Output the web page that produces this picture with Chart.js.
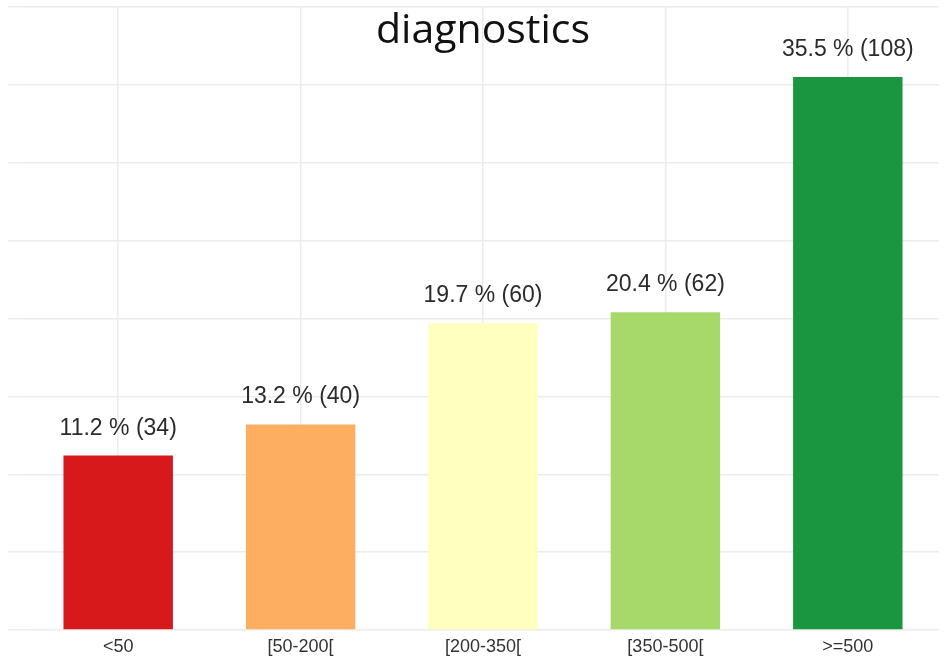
<!DOCTYPE html>
<html>
<head>
<meta charset="utf-8">
<script src="https://cdn.jsdelivr.net/npm/chart.js@4/dist/chart.umd.min.js"></script>
<style>
  html, body { margin: 0; padding: 0; background: #ffffff; }
  #wrap { width: 944px; height: 659px; }
</style>
</head>
<body>
<div id="wrap"><canvas id="c" width="944" height="659"></canvas></div>
<script>
// Share of diagnostics per class, with absolute counts
const categories = ['<50', '[50-200[', '[200-350[', '[350-500[', '>=500'];
const percentValues = [11.2, 13.2, 19.7, 20.4, 35.5];
const countValues = [34, 40, 60, 62, 108];
const barColors = ['#d7191c', '#fdae61', '#ffffbf', '#a6d96a', '#1a9641'];
const chartTitle = 'diagnostics';

const gridColor = '#ececec';

// Draws the "xx.x % (n)" label above every bar
const barLabels = {
  id: 'barLabels',
  afterDatasetsDraw(chart) {
    const ctx = chart.ctx;
    const meta = chart.getDatasetMeta(0);
    ctx.save();
    ctx.font = '23px "Liberation Sans", Arial, sans-serif';
    ctx.fillStyle = '#2b2b2b';
    ctx.textAlign = 'center';
    ctx.textBaseline = 'alphabetic';
    meta.data.forEach((bar, i) => {
      const txt = percentValues[i].toFixed(1) + ' % (' + countValues[i] + ')';
      ctx.fillText(txt, bar.x, bar.y - 21);
    });
    ctx.restore();
  }
};

// Title sits inside the plot area, over the grid
const innerTitle = {
  id: 'innerTitle',
  afterDraw(chart) {
    const ctx = chart.ctx;
    const area = chart.chartArea;
    ctx.save();
    ctx.font = '41px "Open Sans", sans-serif';
    ctx.fillStyle = '#111111';
    ctx.textAlign = 'center';
    ctx.textBaseline = 'alphabetic';
    ctx.fillText(chartTitle, (area.left + area.right) / 2, 43);
    ctx.restore();
  }
};

new Chart(document.getElementById('c'), {
  type: 'bar',
  data: {
    labels: categories,
    datasets: [{
      data: percentValues,
      backgroundColor: barColors,
      borderWidth: 0,
      categoryPercentage: 1.0,
      barPercentage: 0.6
    }]
  },
  options: {
    responsive: false,
    animation: false,
    layout: { padding: { top: 7, right: 5, left: 8, bottom: 0 } },
    plugins: {
      legend: { display: false },
      tooltip: { enabled: false },
      title: { display: false }
    },
    scales: {
      x: {
        offset: true,
        grid: { offset: false, color: gridColor, lineWidth: 1.5, drawTicks: false },
        border: { display: false },
        ticks: {
          color: '#333333',
          font: { family: '"Liberation Sans", Arial, sans-serif', size: 18 },
          padding: 6,
          maxRotation: 0
        },
        afterFit(scale) { scale.height = 29; }
      },
      y: {
        min: 0,
        max: 40,
        ticks: { display: false, stepSize: 5 },
        grid: { color: gridColor, lineWidth: 1.5, drawTicks: true, tickLength: 19 },
        border: { display: false },
        afterFit(scale) { scale.width = 19; }
      }
    }
  },
  plugins: [barLabels, innerTitle]
});
</script>
</body>
</html>
